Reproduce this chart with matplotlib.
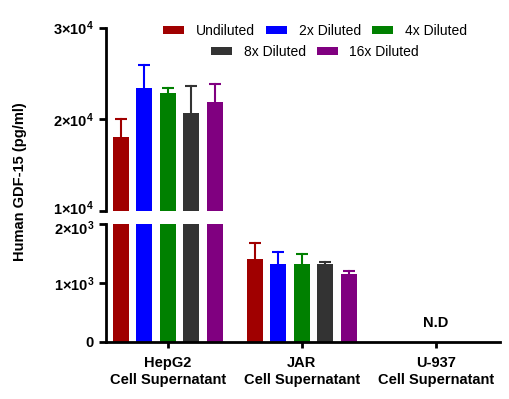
import numpy as np
import matplotlib
matplotlib.use('Agg')
import matplotlib.pyplot as plt
import matplotlib.transforms as mtransforms

matplotlib.rcParams['font.family'] = ['Liberation Sans', 'DejaVu Sans']
matplotlib.rcParams['mathtext.fontset'] = 'custom'
matplotlib.rcParams['mathtext.rm'] = 'Liberation Sans'
matplotlib.rcParams['mathtext.bf'] = 'Liberation Sans:bold'
matplotlib.rcParams['mathtext.default'] = 'bf'

# -- data --
groups = ['HepG2\nCell Supernatant', 'JAR\nCell Supernatant', 'U-937\nCell Supernatant']
dilutions = ['Undiluted', '2x Diluted', '4x Diluted', '8x Diluted', '16x Diluted']
colors = ['#A00000', '#0000FF', '#008000', '#333333', '#800080']
hepg2 = [18080, 23370, 22830, 20650, 21850]
hepg2Err = [1920, 2500, 570, 3010, 1950]
jar = [1407, 1322, 1322, 1322, 1147]
jarErr = [276, 203, 170, 28, 61]
u937Label = 'N.D'

barWidth = 0.12
barStep = 0.175
spineWidth = 2.0
fontSizeTicks = 10.5
fontSizeLegend = 10


def upper_errorbar(ax, xpos, yval, err, color):
    ax.plot([xpos, xpos], [yval, yval + err], color=color, lw=1.5, zorder=1)
    ax.plot(xpos, yval + err, marker='_', ms=8, mew=1.5, color=color, zorder=1)


fig = plt.figure(figsize=(5.09, 3.99), dpi=100)
axTop = fig.add_axes([0.208, 0.471, 0.774, 0.460])
axBot = fig.add_axes([0.208, 0.143, 0.774, 0.296])

for ind in range(len(dilutions)):
    xpos = (ind - 2) * barStep
    for ax in (axTop, axBot):
        ax.bar(xpos, hepg2[ind], width=barWidth, color=colors[ind], zorder=2)
    upper_errorbar(axTop, xpos, hepg2[ind], hepg2Err[ind], colors[ind])
    axBot.bar(1 + xpos, jar[ind], width=barWidth, color=colors[ind], label=dilutions[ind], zorder=2)
    upper_errorbar(axBot, 1 + xpos, jar[ind], jarErr[ind], colors[ind])

axBot.text(2, 322, u937Label, ha='center', va='center', fontsize=fontSizeTicks, fontweight='bold')

for ax in (axTop, axBot):
    ax.set_xlim(-0.463, 2.478)
    for side in ['top', 'right']:
        ax.spines[side].set_visible(False)
    ax.spines['left'].set_linewidth(spineWidth)
    ax.spines['bottom'].set_linewidth(spineWidth)
    ax.tick_params(width=spineWidth, length=5, labelsize=fontSizeTicks)

axTop.set_ylim(1e4, 3e4)
axTop.set_yticks([1e4, 2e4, 3e4])
axTop.set_yticklabels(['1×10$^{4}$', '2×10$^{4}$', '3×10$^{4}$'], fontweight='bold')
axTop.spines['bottom'].set_visible(False)
axTop.set_xticks([])

axBot.set_ylim(0, 2e3)
axBot.set_yticks([0, 1e3, 2e3])
axBot.set_yticklabels(['0', '1×10$^{3}$', '2×10$^{3}$'], fontweight='bold')
axBot.set_xticks([0, 1, 2])
axBot.set_xticklabels(groups, fontweight='bold', fontsize=fontSizeTicks, linespacing=1.3)
axBot.tick_params(axis='x', length=4, pad=6)

# nudge the two labels at the axis break apart
nudge = 2.5 / 72
lab = axTop.get_yticklabels()[0]
lab.set_transform(lab.get_transform() + mtransforms.ScaledTranslation(0, nudge, fig.dpi_scale_trans))
lab = axBot.get_yticklabels()[2]
lab.set_transform(lab.get_transform() + mtransforms.ScaledTranslation(0, -nudge, fig.dpi_scale_trans))

fig.text(0.04, 0.544, 'Human GDF-15 (pg/ml)', rotation=90, ha='center', va='center',
         fontsize=fontSizeTicks, fontweight='bold')

handles, labels = axBot.get_legend_handles_labels()
legOpts = dict(frameon=False, fontsize=fontSizeLegend, handlelength=1.5, handleheight=0.5,
               columnspacing=0.8, handletextpad=0.85)
leg1 = fig.legend(handles[:3], labels[:3], loc='center', bbox_to_anchor=(0.619, 0.922),
                  ncol=3, **legOpts)
leg2 = fig.legend(handles[3:], labels[3:], loc='center', bbox_to_anchor=(0.619, 0.870),
                  ncol=2, **legOpts)

fig.savefig('out.png', dpi=100)
